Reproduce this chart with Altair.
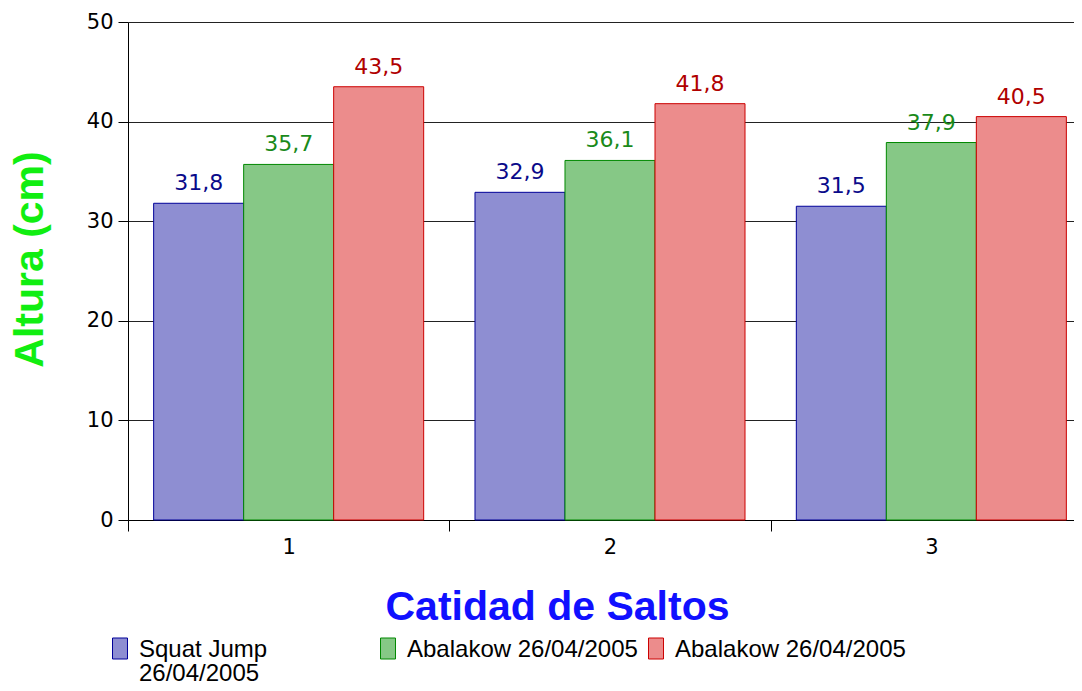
import altair as alt
import pandas as pd

categories = ["1", "2", "3"]
series = ["Squat Jump 26/04/2005", "Abalakow 26/04/2005 (a)", "Abalakow 26/04/2005 (b)"]
squat = [31.8, 32.9, 31.5]
abalakow_a = [35.7, 36.1, 37.9]
abalakow_b = [43.5, 41.8, 40.5]

fills = ["#8e8ed2", "#86c886", "#ec8c8c"]
strokes = ["#000099", "#008800", "#cc0000"]
text_colors = ["#0a0a8a", "#1a8a1a", "#b00000"]

rows = []
for s, vals in zip(series, [squat, abalakow_a, abalakow_b]):
    for c, v in zip(categories, vals):
        rows.append({"cat": c, "series": s, "value": v})
df = pd.DataFrame(rows)

x = alt.X("cat:N", title="Catidad de Saltos",
          scale=alt.Scale(paddingInner=0, paddingOuter=0, range=[0, 964]),
          axis=alt.Axis(labelAngle=0, labelFont="DejaVu Sans", labelFontSize=21,
                        labelColor="#000", labelPadding=5, tickSize=11,
                        tickColor="#000", domainColor="#000", tickBand="extent",
                        titleFont="Liberation Sans", titleFontSize=41,
                        titleFontWeight="bold", titleColor="#1010ff",
                        titleX=429, titleY=87, titleBaseline="middle",
                        titleAnchor="middle", titleAlign="center"))
xo = alt.XOffset("series:N", sort=series,
                 scale=alt.Scale(paddingInner=0, paddingOuter=0.285))
y = alt.Y("value:Q", title="Altura (cm)",
          scale=alt.Scale(domain=[0, 50], nice=False),
          axis=alt.Axis(values=[0, 10, 20, 30, 40, 50], labelFont="DejaVu Sans",
                        labelFontSize=21, labelColor="#000", labelPadding=5,
                        tickSize=10, tickColor="#000", domainColor="#000",
                        gridColor="#222", gridOpacity=1, grid=True,
                        titleFont="Liberation Sans", titleFontSize=41,
                        titleFontWeight="bold", titleColor="#11ee11",
                        titleX=-98, titleY=237, titleAngle=270,
                        titleBaseline="middle", titleAlign="center"))

color_fill = alt.Color(
    "series:N", sort=series,
    scale=alt.Scale(domain=series, range=fills),
    legend=alt.Legend(
        title=None, orient="none", legendX=-20, legendY=604,
        direction="horizontal", columns=3, gridAlign="all", columnPadding=6,
        symbolType="M-0.714,0H0.714V2H-0.714Z", symbolSize=441, symbolStrokeWidth=1,
        labelFont="Liberation Sans", labelFontSize=24, labelColor="#000",
        labelOffset=7, labelLimit=400, labelBaseline="top",
        labelExpr="datum.label == 'Squat Jump 26/04/2005' ? ['Squat Jump', '26/04/2005'] : ['Abalakow 26/04/2005', '']"))

base = alt.Chart(df)

bars = base.mark_bar(strokeWidth=1, strokeOpacity=1, opacity=1).encode(
    x=x, xOffset=xo, y=y,
    fill=color_fill,
    stroke=alt.Stroke("series:N", sort=series,
                      scale=alt.Scale(domain=series, range=strokes), legend=None),
)

labels = base.transform_calculate(
    lab="replace(format(datum.value, '.1f'), '.', ',')"
).mark_text(baseline="alphabetic", dy=-13, font="DejaVu Sans", fontSize=22).encode(
    x=alt.X("cat:N"), xOffset=alt.XOffset("series:N", sort=series), y="value:Q",
    text="lab:N",
    color=alt.Color("series:N", sort=series,
                    scale=alt.Scale(domain=series, range=text_colors), legend=None),
)

chart = alt.layer(bars, labels).resolve_scale(color="independent").properties(
    width=946, height=498,
    autosize=alt.AutoSizeParams(type="none"),
    padding={"left": 120, "top": 14, "right": 0, "bottom": 163},
    background="white",
).configure(
    view=alt.ViewConfig(stroke="transparent"),
    axis=alt.AxisConfig(labelOverlap=False),
    style={"guide-label": {"lineHeight": 24}},
)

chart.save("out.html", embed_options={"renderer": "svg", "actions": False})
